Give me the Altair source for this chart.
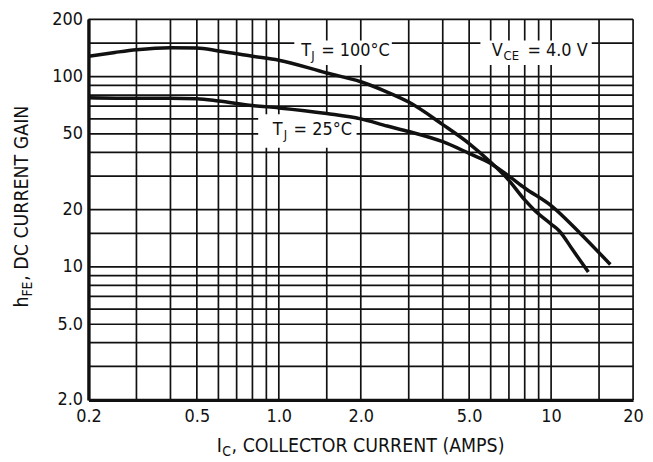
import altair as alt
import pandas as pd

# ---------------- data ----------------
ic_100 = [0.2, 0.25, 0.3, 0.4, 0.5, 0.6, 0.8, 1.0, 1.5, 2.0, 2.5, 3.0, 4.0, 5.0,
          6.0, 7.0, 8.0, 8.65, 10.0, 10.7, 12.0, 13.7]
hfe_100 = [128, 134, 138.5, 142, 141.5, 136.5, 128, 122, 104.5, 94, 83, 73.5, 56, 44.5,
           35.5, 28.5, 22.5, 20, 16.8, 15.5, 12.3, 9.4]

ic_25 = [0.2, 0.3, 0.4, 0.5, 0.6, 0.8, 1.0, 1.5, 2.0, 2.5, 3.0, 4.0, 5.0, 6.0,
         7.0, 8.0, 10.0, 12.8, 16.5]
hfe_25 = [77.5, 77, 77, 76.5, 74.5, 70.5, 68.5, 64, 60, 55, 51.5, 45.5, 39.5, 35,
          30, 26, 21, 15, 10.3]

x_ticks = [0.2, 0.5, 1, 2, 5, 10, 20]
y_ticks = [2, 5, 10, 20, 50, 100, 200]
x_grid = [0.2, 0.3, 0.4, 0.5, 0.6, 0.7, 0.8, 0.9, 1, 1.5, 2, 3, 4, 5, 6, 7, 8, 9, 10, 15, 20]
y_grid = [2, 3, 4, 5, 6, 7, 8, 9, 10, 15, 20, 30, 40, 50, 60, 70, 80, 90, 100, 150, 200]

# white boxes behind the curve labels (data coordinates)
box_x1 = [1.14, 0.84, 5.5]
box_x2 = [2.6, 1.93, 14.1]
box_y1 = [155, 63.5, 155]
box_y2 = [115, 42.3, 115]

# label anchors (data coordinates, left / baseline)
lab_x = [1.21, 0.95, 6.05]
lab_y = [129, 49.1, 128]

FONT = "DejaVu Sans Condensed, DejaVu Sans, sans-serif"
INK = "#111111"
lbl_expr = "datum.value < 10 ? format(datum.value, '.1f') : format(datum.value, 'd')"

xs = alt.Scale(type="log", domain=[0.2, 20], nice=False)
ys = alt.Scale(type="log", domain=[2, 200], nice=False)

xaxis = alt.Axis(values=x_ticks, labelExpr=lbl_expr, title=None, grid=False, ticks=False,
                 domainColor=INK, domainWidth=3.3, labelFont=FONT, labelFontSize=18,
                 labelColor=INK, labelPadding=8, labelFlush=False, labelOverlap=False, zindex=2)
yaxis = alt.Axis(values=y_ticks, labelExpr=lbl_expr, title=None, grid=False, ticks=False,
                 domainColor=INK, domainWidth=3.3, labelFont=FONT, labelFontSize=18,
                 labelColor=INK, labelPadding=6, labelFlush=False, labelOverlap=False, zindex=2)


def X(field):
    return alt.X(field, type="quantitative", scale=xs, axis=xaxis)


def Y(field):
    return alt.Y(field, type="quantitative", scale=ys, axis=yaxis)


vgrid = alt.Chart(pd.DataFrame({"x": x_grid})).mark_rule(
    color=INK, strokeWidth=1.7).encode(x=X("x"))
hgrid = alt.Chart(pd.DataFrame({"y": y_grid})).mark_rule(
    color=INK, strokeWidth=1.7).encode(y=Y("y"))

boxes = alt.Chart(pd.DataFrame({"x": box_x1, "x2": box_x2, "y": box_y1, "y2": box_y2})).mark_rect(
    fill="white").encode(x=X("x"), x2="x2:Q", y=Y("y"), y2="y2:Q")

curves_df = pd.concat([
    pd.DataFrame({"series": "100", "ic": ic_100, "hfe": hfe_100}),
    pd.DataFrame({"series": "25", "ic": ic_25, "hfe": hfe_25}),
])
curves = alt.Chart(curves_df).mark_line(
    color=INK, strokeWidth=3.5, interpolate="monotone", strokeCap="butt").encode(
    x=X("ic"), y=Y("hfe"), detail="series:N")


def piece(i, txt, size, dx=0, dy=0):
    df = pd.DataFrame({"x": [lab_x[i]], "y": [lab_y[i]], "t": [txt]})
    return alt.Chart(df).mark_text(
        align="left", baseline="alphabetic", font=FONT, fontSize=size,
        dx=dx, dy=dy, color=INK).encode(x=X("x"), y=Y("y"), text="t:N")


labels = [
    piece(0, "T", 18), piece(0, "J", 13, dx=10, dy=4), piece(0, "= 100°C", 18, dx=20),
    piece(1, "T", 18), piece(1, "J", 13, dx=11, dy=4), piece(1, "= 25°C", 18, dx=21),
    piece(2, "V", 18), piece(2, "CE", 13, dx=12, dy=4), piece(2, "= 4.0 V", 18, dx=36),
]


def title_piece(txt, size, x, y, angle=0, dx=0, dy=0):
    return alt.Chart(pd.DataFrame({"t": [txt]})).mark_text(
        align="left", baseline="alphabetic", font=FONT, fontSize=size, angle=angle,
        dx=dx, dy=dy, color=INK).encode(x=alt.value(x), y=alt.value(y), text="t:N")


TX, TY = 129, 435
YX, YY = -61, 290
titles = [
    title_piece("I", 19.5, TX, TY),
    title_piece("C", 14, TX, TY, dx=5.5, dy=4),
    title_piece(", COLLECTOR CURRENT (AMPS)", 19.5, TX, TY, dx=15),
    title_piece("h", 19.5, YX, YY, angle=270),
    title_piece("FE", 14, YX, YY, angle=270, dx=11, dy=4),
    title_piece(", DC CURRENT GAIN", 19.5, YX, YY, angle=270, dx=27),
]

chart = alt.layer(vgrid, hgrid, boxes, curves, *labels, *titles).properties(
    width=548, height=383,
    padding={"left": 81, "top": 10, "right": 12, "bottom": 61},
    autosize=alt.AutoSizeParams(type="none"),
    background="white",
).configure_view(stroke=None)

chart.save("out.html", embed_options={"renderer": "svg", "actions": False})
